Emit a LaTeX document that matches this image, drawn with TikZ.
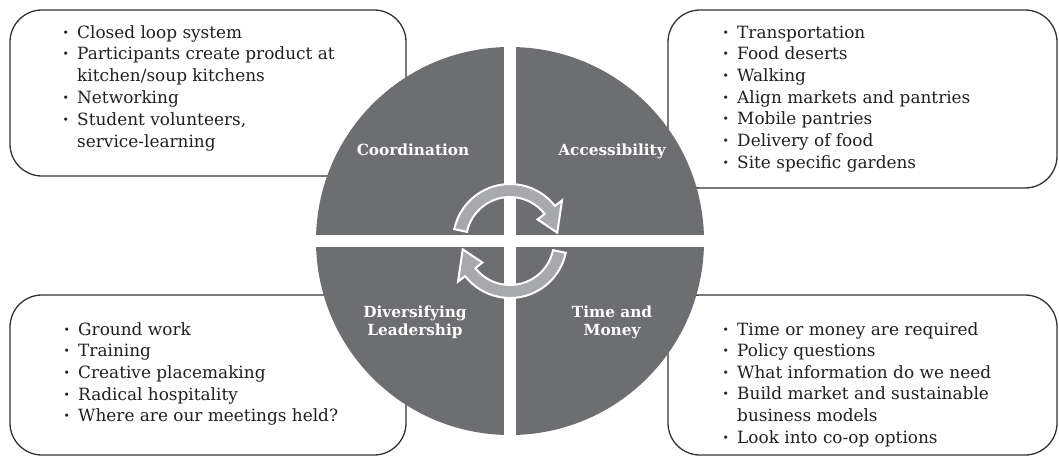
\documentclass[tikz,border=0pt]{standalone}
\usepackage{fontspec}
\setmainfont{DejaVu Serif}
\definecolor{quadgray}{HTML}{6D6E71}
\definecolor{arrowgray}{HTML}{A7A9AC}
\definecolor{boxline}{HTML}{333333}
\definecolor{textcol}{HTML}{231F20}
\newcommand\bul{\llap{\textbf{·}\kern8.5pt}}
\begin{document}
\begin{tikzpicture}[x=1pt,y=1pt]
\tikzset{
 infobox/.style={draw=boxline, line width=1.3pt, rounded corners=32pt, fill=white},
 item/.style={anchor=base west, inner sep=0pt, font=\fontsize{16.9}{21}\selectfont, text=textcol},
 quadlabel/.style={anchor=base, text=white, font=\bfseries\fontsize{15.3}{18}\selectfont, inner sep=0pt},
 cyclearrow/.style={fill=arrowgray, draw=white, line width=2pt, line join=miter}
}
\useasboundingbox (0,0) rectangle (1059,-456);
% boxes
\draw[infobox] (10,-10) rectangle (406,-176);
\draw[infobox] (668,-10) rectangle (1057,-188);
\draw[infobox] (10,-295) rectangle (406,-455);
\draw[infobox] (668,-295) rectangle (1057,-455);
% circle quadrants
\fill[quadgray] (510,-241) circle[radius=194];
\begin{scope}
 \clip (510,-241) circle[radius=196];
 \fill[white] (504,-40) rectangle (516,-445);
 \fill[white] (300,-235) rectangle (720,-247);
\end{scope}
% cycle arrows
\begin{scope}[shift={(510,-241)}]
 \path[cyclearrow] (168:57) arc[start angle=168, end angle=38, radius=57] -- (38:66) -- (10:48) -- (38:35) -- (38:44) arc[start angle=38, end angle=168, radius=44] -- cycle;
\end{scope}
\begin{scope}[shift={(510,-241)}, rotate=180]
 \path[cyclearrow] (168:57) arc[start angle=168, end angle=38, radius=57] -- (38:66) -- (10:48) -- (38:35) -- (38:44) arc[start angle=38, end angle=168, radius=44] -- cycle;
\end{scope}
% labels
\node[quadlabel] (lc) at (413,-155) {Coordination};
\node[quadlabel] (la) at (612,-155) {Accessibility};
\node[quadlabel] (ld1) at (415,-317) {Diversifying};
\node[quadlabel] (ld2) at (415,-335) {Leadership};
\node[quadlabel] (lt1) at (612,-317) {Time and};
\node[quadlabel] (lt2) at (612,-335) {Money};
% box texts
\foreach \t [count=\i] in {{\bul Closed loop system},{\bul Participants create product at},{kitchen/soup kitchens},{\bul Networking},{\bul Student volunteers,},{service-learning}}
 \node[item] (ta\i) at (77,{-38-21.8*(\i-1)}) {\t};
\foreach \t [count=\i] in {{\bul Transportation},{\bul Food deserts},{\bul Walking},{\bul Align markets and pantries},{\bul Mobile pantries},{\bul Delivery of food},{\bul Site specific gardens}}
 \node[item] (tb\i) at (737,{-38-21.7*(\i-1)}) {\t};
\foreach \t [count=\i] in {{\bul Ground work},{\bul Training},{\bul Creative placemaking},{\bul Radical hospitality},{\bul Where are our meetings held?}}
 \node[item] (tc\i) at (78,{-335-21.7*(\i-1)}) {\t};
\foreach \t [count=\i] in {{\bul Time or money are required},{\bul Policy questions},{\bul What information do we need},{\bul Build market and sustainable},{business models},{\bul Look into co-op options}}
 \node[item] (td\i) at (737,{-335-21.6*(\i-1)}) {\t};
\end{tikzpicture}
\end{document}
